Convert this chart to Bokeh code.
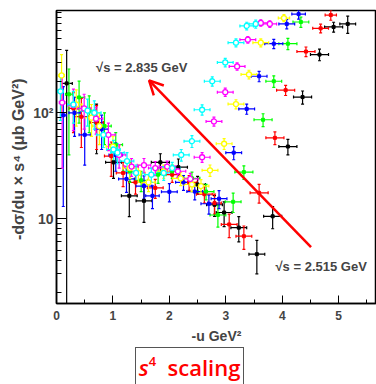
from bokeh.plotting import figure
from bokeh.layouts import column
from bokeh.models import (ColumnDataSource, Whisker, TeeHead, Label, Arrow, OpenHead,
                          FixedTicker, Range1d, Div)
from bokeh.embed import file_html
from bokeh.resources import INLINE

# ---------------- data ----------------
black_x = [0.18, 0.71, 1.01, 1.29, 1.55, 1.84, 2.16, 2.50, 2.80, 2.97, 3.23, 3.55, 3.83, 4.10, 4.36, 4.66, 4.91, 5.16]
black_y = [190, 81, 34, 16.4, 14.7, 34, 30.6, 21, 13.5, 11.4, 8.2, 4.6, 10.5, 48, 141, 356, 650, 694]
black_ex = [0.1, 0.12, 0.14, 0.14, 0.14, 0.16, 0.16, 0.14, 0.14, 0.14, 0.14, 0.14, 0.16, 0.16, 0.16, 0.16, 0.16, 0.14]
black_ey = [200, 40, 10, 6, 5.5, 7, 6, 4, 3, 3, 2.2, 1.6, 2.5, 8, 20, 45, 70, 130]

red_x = [0.30, 0.44, 0.71, 0.97, 1.18, 1.40, 1.75, 2.05, 2.35, 2.62, 2.80, 3.06, 3.32, 3.59, 3.87, 4.06, 4.42, 4.68, 4.86]
red_y = [110, 92, 81, 39, 27, 22, 19.5, 26, 22, 17, 14, 8.8, 6.8, 17.5, 58, 164, 380, 630, 842]
red_ex = [0.08, 0.12, 0.12, 0.12, 0.12, 0.12, 0.14, 0.14, 0.14, 0.14, 0.12, 0.14, 0.14, 0.16, 0.16, 0.16, 0.16, 0.14, 0.1]
red_ey = [45, 45, 36, 14, 7, 5, 4, 4, 3.5, 3, 3, 2.2, 1.7, 3.5, 8, 18, 40, 60, 90]

green_x = [0.22, 0.40, 0.58, 0.85, 1.05, 1.30, 1.50, 1.80, 2.05, 2.40, 2.65, 2.86, 3.13, 3.32, 3.66, 3.85, 4.10, 4.33]
green_y = [150, 140, 105, 75, 50, 28, 23, 26, 28, 24, 18, 10.8, 14.4, 27.5, 86, 199, 451, 724]
green_ex = [0.06, 0.1, 0.12, 0.12, 0.12, 0.12, 0.12, 0.14, 0.14, 0.14, 0.14, 0.14, 0.14, 0.16, 0.16, 0.14, 0.16, 0.14]
green_ey = [110, 60, 40, 25, 15, 6, 5, 4.5, 4, 3.5, 3, 2.5, 3, 4, 12, 25, 55, 80]

blue_x = [0.12, 0.32, 0.50, 0.80, 1.05, 1.24, 1.55, 1.70, 2.00, 2.25, 2.45, 2.70, 2.88, 3.14, 3.37, 3.59, 3.85, 4.08, 4.29]
blue_y = [95, 100, 62, 70, 40, 23.7, 20.3, 16.4, 17.9, 22, 18, 13.8, 15.4, 42, 109, 222, 451, 694, 860]
blue_ex = [0.05, 0.1, 0.1, 0.12, 0.12, 0.14, 0.14, 0.12, 0.14, 0.14, 0.14, 0.14, 0.14, 0.14, 0.14, 0.14, 0.16, 0.14, 0.12]
blue_ey = [82, 40, 30, 25, 12, 6, 5, 4, 3.5, 3.5, 3, 2.8, 3, 6, 12, 25, 45, 70, 90]

yellow_x = [0.09, 0.35, 0.62, 0.76, 1.00, 1.30, 1.45, 1.63, 1.90, 2.20, 2.40, 2.56, 2.72, 2.97, 3.18, 3.41, 3.62, 4.03]
yellow_y = [226, 120, 90, 75, 48, 30, 27, 22, 28, 24, 21, 20.3, 28.6, 51, 121, 231, 461, 789]
yellow_ex = [0.05, 0.1, 0.12, 0.12, 0.12, 0.12, 0.12, 0.12, 0.14, 0.14, 0.14, 0.14, 0.14, 0.14, 0.14, 0.14, 0.14, 0.1]
yellow_ey = [130, 45, 30, 25, 12, 6, 5, 4, 4, 3.5, 3, 3, 3.5, 6, 12, 22, 40, 60]

magenta_x = [0.10, 0.30, 0.49, 0.70, 0.92, 1.11, 1.33, 1.55, 1.75, 1.96, 2.15, 2.37, 2.58, 2.79, 2.99, 3.20, 3.39, 3.62, 3.78]
magenta_y = [125, 118, 110, 88, 62, 40, 31, 32, 30, 31, 28, 23.7, 38, 83, 157, 275, 492, 710, 694]
magenta_ex = [0.05, 0.1, 0.12, 0.12, 0.12, 0.12, 0.12, 0.12, 0.12, 0.14, 0.14, 0.14, 0.14, 0.14, 0.14, 0.14, 0.14, 0.12, 0.12]
magenta_ey = [95, 50, 40, 25, 18, 10, 6, 5, 4.5, 4, 3.5, 3, 4, 8, 14, 22, 35, 50, 50]

cyan_x = [0.07, 0.30, 0.55, 0.67, 0.83, 1.01, 1.08, 1.25, 1.41, 1.68, 1.90, 2.05, 2.21, 2.40, 2.58, 2.76, 2.99, 3.18, 3.37, 3.53]
cyan_y = [160, 120, 105, 100, 62, 45, 42, 35, 27, 26, 27, 30, 40, 54, 107, 199, 300, 461, 665, 694]
cyan_ex = [0.05, 0.1, 0.1, 0.12, 0.12, 0.12, 0.12, 0.12, 0.12, 0.12, 0.12, 0.14, 0.14, 0.14, 0.14, 0.14, 0.14, 0.14, 0.12, 0.12]
cyan_ey = [75, 40, 30, 30, 15, 10, 9, 7, 5, 4, 4, 4, 5, 7, 12, 20, 28, 40, 55, 60]

x_ticks = [0, 1, 2, 3, 4, 5]
x_minor = [0.5, 1.5, 2.5, 3.5, 4.5, 5.5]
y_ticks = [10, 100]
y_tick_labels = {10: "10", 100: "10²"}
y_minor = [2, 3, 4, 5, 6, 7, 8, 9, 20, 30, 40, 50, 60, 70, 80, 90, 200, 300, 400, 500, 600, 700, 800, 900]

label_high = "√s = 2.835 GeV"
label_low = "√s = 2.515 GeV"
caption_main = "s"
caption_exp = "4"
caption_rest = "scaling"

series = [
    ("black", black_x, black_y, black_ex, black_ey, "filled"),
    ("red", red_x, red_y, red_ex, red_ey, "filled"),
    ("#00ff00", green_x, green_y, green_ex, green_ey, "filled"),
    ("blue", blue_x, blue_y, blue_ex, blue_ey, "filled"),
    ("#ffff00", yellow_x, yellow_y, yellow_ex, yellow_ey, "open"),
    ("magenta", magenta_x, magenta_y, magenta_ex, magenta_ey, "open"),
    ("cyan", cyan_x, cyan_y, cyan_ex, cyan_ey, "open"),
]

Y0, Y1 = 1.57, 930
FONT = "Liberation Sans"

p = figure(width=376, height=346, x_range=Range1d(0, 5.67), y_range=Range1d(Y0, Y1),
           y_axis_type="log", output_backend="svg", toolbar_location=None,
           min_border_left=56, min_border_right=0, min_border_top=10, min_border_bottom=40)
p.outline_line_color = "black"
p.outline_line_width = 1.5
p.xgrid.visible = False
p.ygrid.visible = False

LW = 1.2
for color, xs, ys, exs, eys, kind in series:
    lo = [max(y - e, Y0) for y, e in zip(ys, eys)]
    hi = [min(y + e, Y1) for y, e in zip(ys, eys)]
    src = ColumnDataSource(dict(x=xs, y=ys, xl=[x - e for x, e in zip(xs, exs)],
                                xh=[x + e for x, e in zip(xs, exs)], yl=lo, yh=hi))
    p.add_layout(Whisker(source=src, base="y", lower="xl", upper="xh", dimension="width",
                         line_color=color, line_width=LW,
                         lower_head=TeeHead(size=3, line_color=color, line_width=LW),
                         upper_head=TeeHead(size=3, line_color=color, line_width=LW)))
    p.add_layout(Whisker(source=src, base="x", lower="yl", upper="yh", dimension="height",
                         line_color=color, line_width=LW,
                         lower_head=TeeHead(size=3, line_color=color, line_width=LW),
                         upper_head=TeeHead(size=3, line_color=color, line_width=LW)))
    if kind == "filled":
        p.scatter("x", "y", source=src, marker="square", size=3, color=color)
    else:
        p.scatter("x", "y", source=src, marker="circle", size=5, fill_color="white",
                  line_color=color, line_width=1.3)

# axes
for ax in (p.xaxis[0], p.yaxis[0]):
    ax.axis_line_width = 1.5
    ax.major_label_text_font = FONT
    ax.major_label_text_font_style = "bold"
    ax.axis_label_text_font = FONT
    ax.axis_label_text_font_style = "bold"
    ax.major_tick_out = 0
    ax.minor_tick_out = 0

p.xaxis.ticker = FixedTicker(ticks=x_ticks, minor_ticks=x_minor)
p.xaxis.major_tick_in = 8
p.xaxis.minor_tick_in = 4
p.xaxis.axis_label = "-u GeV²"
p.xaxis.major_label_text_font_size = "12px"
p.xaxis.axis_label_text_font_size = "14px"
p.xaxis.major_label_standoff = 7
p.xaxis.axis_label_standoff = 5

p.yaxis.ticker = FixedTicker(ticks=y_ticks, minor_ticks=y_minor)
p.yaxis.major_label_overrides = y_tick_labels
p.yaxis.major_label_text_font_size = "14px"
p.yaxis.axis_label_text_font_size = "16px"
p.yaxis.major_tick_in = 10
p.yaxis.minor_tick_in = 5
p.yaxis.axis_label = "-dσ/du × s⁴  (μb GeV²)"
p.yaxis.major_label_standoff = 3
p.yaxis.axis_label_standoff = 3

# annotations
p.add_layout(Label(x=0.70, y=269, text=label_high, text_font=FONT, text_font_style="bold",
                   text_font_size="13px", text_baseline="middle"))
p.add_layout(Label(x=3.88, y=3.48, text=label_low, text_font=FONT, text_font_style="bold",
                   text_font_size="13px", text_baseline="middle"))
p.add_layout(Arrow(end=OpenHead(size=14, line_color="red", line_width=2.5),
                   x_start=4.51, y_start=5.36, x_end=1.64, y_end=203,
                   line_color="red", line_width=2.5))

# caption box below the plot
caption_html = (
    '<div style="margin:0;padding:0;position:relative;width:376px;height:38px;">'
    '<div style="position:absolute;left:135px;top:1px;width:109px;height:45px;'
    'border:1.5px solid #555;border-bottom:none;color:red;font-family:\'Open Sans\',sans-serif;'
    'font-size:22px;font-weight:600;line-height:22px;text-align:center;padding-top:8px;box-sizing:border-box;">'
    f'<i>{caption_main}</i><span style="font-size:13px;position:relative;top:-10px;">{caption_exp}</span>'
    f'&nbsp;&nbsp;{caption_rest}</div></div>'
)
cap = Div(text=caption_html, width=376, height=38, margin=0)

layout = column(p, cap, spacing=0)
open("out.html", "w").write(file_html(layout, INLINE))
